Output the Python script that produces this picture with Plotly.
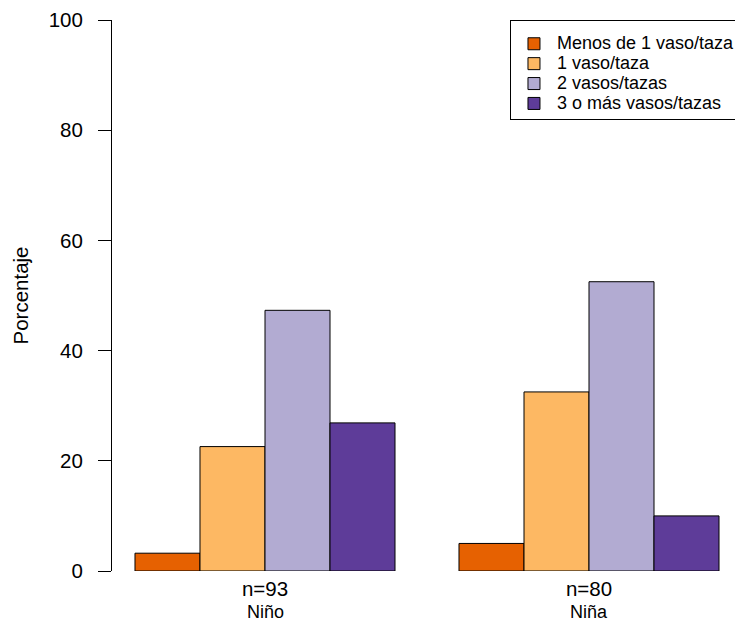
import plotly.graph_objects as go

# ---- data ----
categories = ["Niño", "Niña"]
n_totals = [93, 80]
series_names = ["Menos de 1 vaso/taza", "1 vaso/taza", "2 vasos/tazas", "3 o más vasos/tazas"]
menos_1 = [3.23, 5.0]
uno = [22.58, 32.5]
dos = [47.31, 52.5]
tres_mas = [26.88, 10.0]
series_values = [menos_1, uno, dos, tres_mas]
colors = ["#E66101", "#FDB863", "#B2ABD2", "#5E3C99"]
y_ticks = [0, 20, 40, 60, 80, 100]

FONT = "Liberation Sans, Arial, Helvetica, sans-serif"

fig = go.Figure()
for name, vals, col in zip(series_names, series_values, colors):
    fig.add_trace(go.Bar(
        x=categories, y=vals,
        name=f"<span style='font-size:18px'>{name}</span>",
        marker=dict(color=col, line=dict(color="black", width=1)),
    ))

fig.update_layout(
    width=735, height=624,
    margin=dict(l=112, r=0, t=20, b=53, autoexpand=False),
    paper_bgcolor="white", plot_bgcolor="white",
    barmode="group", bargap=0.1975, bargroupgap=0,
    font=dict(family=FONT, color="black"),
    showlegend=True,
    legend=dict(
        x=0.6388, xanchor="left", y=1.0, yanchor="top",
        bordercolor="black", borderwidth=1, bgcolor="white",
        font=dict(size=13, family=FONT, color="black"),
        title=dict(text=" ", font=dict(size=6, family=FONT)),
        itemwidth=36, traceorder="normal",
    ),
    xaxis=dict(
        type="category", range=[-0.4722, 1.4506],
        tickvals=categories, ticktext=[f"n={n}" for n in n_totals],
        ticks="", showline=False, showgrid=False, zeroline=False,
        tickfont=dict(size=20.5, family=FONT, color="black"),
        ticklabelstandoff=3,
    ),
    yaxis=dict(
        range=[0, 100], tickvals=y_ticks, ticktext=[str(v) for v in y_ticks],
        ticks="outside", ticklen=13, tickwidth=1, tickcolor="black",
        showline=True, linecolor="black", linewidth=1,
        showgrid=False, zeroline=False,
        tickfont=dict(size=20.5, family=FONT, color="black"),
        ticklabelstandoff=11,
    ),
)

# group labels under n= labels
for cat in categories:
    fig.add_annotation(x=cat, xref="x", y=0, yref="paper", yanchor="middle",
                       yshift=-41, text=cat, showarrow=False,
                       font=dict(size=18, family=FONT, color="black"))

# y axis title
fig.add_annotation(x=0, xref="paper", xanchor="center", xshift=-92,
                   y=0.5, yref="paper", yanchor="middle", textangle=-90,
                   text="Porcentaje", showarrow=False,
                   font=dict(size=20.5, family=FONT, color="black"))

fig.write_html("out.html", config={"displayModeBar": False},
               post_script="document.body.style.margin='0';document.body.style.overflow='hidden';")
